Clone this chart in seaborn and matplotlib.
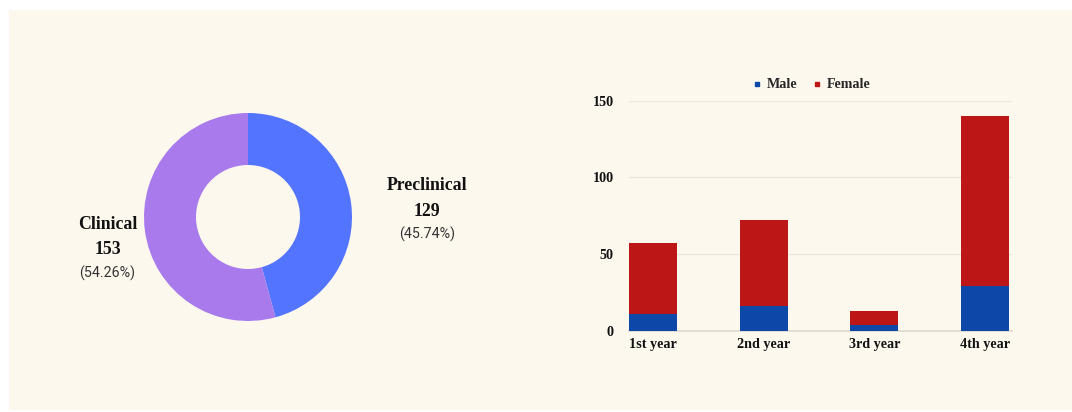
import numpy as np
import pandas as pd
import seaborn as sns
import matplotlib.pyplot as plt
from matplotlib.patches import Rectangle
from matplotlib.lines import Line2D

# donut data
groups = ["Preclinical", "Clinical"]
group_counts = [129, 153]

# stacked bar data
years = ["1st year", "2nd year", "3rd year", "4th year"]
male = [11, 16, 4, 29]
female = [46, 56, 9, 111]

bg = "#FDF8EE"
c_blue_pie = "#5374FF"
c_purple = "#A97AEC"
c_male = "#0D47A8"
c_female = "#BD1616"
serif = "Liberation Serif"

sns.set_theme(style="white")
plt.rcParams['font.family'] = [serif, 'DejaVu Sans']

fig = plt.figure(figsize=(10.72, 4.12), dpi=100)
fig.patch.set_facecolor("white")
fig.add_artist(Rectangle((9 / 1072, 2 / 412), 1063 / 1072, 400 / 412,
                         transform=fig.transFigure, facecolor=bg,
                         edgecolor="none", zorder=0))

# ---- donut ----
W, H = 1072, 412
cx, cy, r = 248, 217, 104
ax1 = fig.add_axes([(cx - r) / W, (H - cy - r) / H, 2 * r / W, 2 * r / H])
ax1.set_facecolor("none")
ax1.pie(group_counts, colors=[c_blue_pie, c_purple], startangle=90,
        counterclock=False, radius=1,
        wedgeprops=dict(width=0.5, edgecolor="none"))
ax1.set_xlim(-1, 1)
ax1.set_ylim(-1, 1)
ax1.set_aspect("equal")
ax1.axis("off")

total = sum(group_counts)
pos = {"Preclinical": (1.72, 0.30), "Clinical": (-1.35, -0.07)}
for g, n in zip(groups, group_counts):
    x, y = pos[g]
    ax1.text(x, y, g, ha="center", va="center", fontsize=12.8,
             fontweight="bold", family=serif, color="#111111", clip_on=False)
    ax1.text(x, y - 0.245, str(n), ha="center", va="center", fontsize=12.8,
             fontweight="bold", family=serif, color="#111111", clip_on=False)
    ax1.text(x, y - 0.47, f"({n / total * 100:.2f}%)", ha="center",
             va="center", fontsize=10.3, family="Roboto", color="#333333",
             clip_on=False)

# ---- stacked bars ----
left, right, top, bottom = 629, 1012, 100.7, 330.7
ax2 = fig.add_axes([left / W, (H - bottom) / H, (right - left) / W,
                    (bottom - top) / H])
ax2.set_facecolor("none")

df = pd.DataFrame({"year": years, "male": male, "female": female})
df["total"] = df["male"] + df["female"]

sns.barplot(data=df, x="year", y="total", color=c_female, width=0.434,
            saturation=1, linewidth=0, ax=ax2, zorder=3)
sns.barplot(data=df, x="year", y="male", color=c_male, width=0.434,
            saturation=1, linewidth=0, ax=ax2, zorder=4)

ax2.set_xlim(-0.217, 3.245)
ax2.set_ylim(0, 150)
ax2.set_yticks([0, 50, 100, 150])
ax2.grid(axis="y", color="#ECE8DE", linewidth=0.9, zorder=0)
ax2.set_xlabel("")
ax2.set_ylabel("")
for s in ["top", "right", "left"]:
    ax2.spines[s].set_visible(False)
ax2.spines["bottom"].set_color("#DDDAD2")
ax2.tick_params(axis="both", length=0, labelsize=10.2, labelcolor="#111111")
ax2.tick_params(axis="y", pad=11)
ax2.tick_params(axis="x", pad=5)
for lab in ax2.get_xticklabels() + ax2.get_yticklabels():
    lab.set_fontweight("bold")
    lab.set_family(serif)

handles = [Line2D([], [], marker="s", linestyle="none", markersize=3,
                  color=c_male, label="Male"),
           Line2D([], [], marker="s", linestyle="none", markersize=3,
                  color=c_female, label="Female")]
fig.legend(handles=handles, loc="center", bbox_to_anchor=(811 / W, 1 - 85 / H),
           ncol=2, frameon=False, handletextpad=0.3, columnspacing=1.0,
           handlelength=0.8, prop=dict(family=serif, weight="bold", size=10.2))

fig.savefig("out.png", dpi=100, facecolor="white")
